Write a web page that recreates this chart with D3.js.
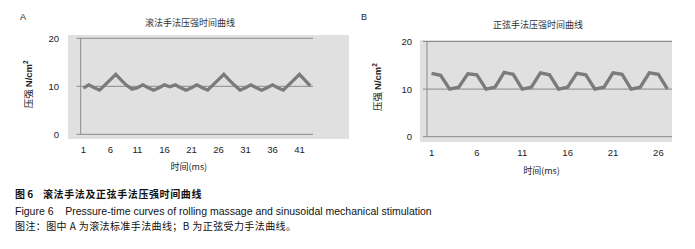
<!DOCTYPE html>
<html>
<head>
<meta charset="utf-8">
<script src="https://d3js.org/d3.v7.min.js"></script>
<style>
  body { margin: 0; background: #fff; }
  svg { display: block; font-family: "Liberation Sans", Arial, "Noto Sans CJK SC", sans-serif; }
  .cjk { font-family: "Noto Sans CJK SC", "Liberation Sans", sans-serif; }
</style>
</head>
<body>
<svg width="695" height="249"></svg>
<script>
// ---- data ----
const rollingTimes = d3.range(1, 44);          // 1..43 ms
const rollingValues = [9.6, 10.3, 9.7, 9.2, 10.3, 11.4, 12.5, 11.3, 10.2, 9.4,
                       9.7, 10.3, 9.7, 9.2, 9.7, 10.3, 9.9, 10.3, 9.7, 9.2,
                       9.7, 10.3, 9.7, 9.2, 10.3, 11.4, 12.5, 11.3, 10.2, 9.2,
                       9.7, 10.3, 9.7, 9.2, 9.7, 10.3, 9.7, 9.2, 10.3, 11.4,
                       12.5, 11.3, 10.1];
const sineTimes = d3.range(1, 28);             // 1..27 ms
const sineValues = [13.3, 12.9, 10.0, 10.4, 13.2, 13.0, 10.0, 10.4, 13.5, 13.1,
                    10.0, 10.4, 13.4, 13.0, 10.0, 10.4, 13.3, 13.0, 10.0, 10.4,
                    13.4, 13.1, 10.0, 10.4, 13.4, 13.1, 10.0];
const rollingTicks = [1, 6, 11, 16, 21, 26, 31, 36, 41];
const sineTicks = [1, 6, 11, 16, 21, 26];
const yTicks = [0, 10, 20];

const svg = d3.select('svg');

// panel layout (pixels)
const panels = [
  { letter: 'A', title: '滚法手法压强时间曲线', times: rollingTimes, values: rollingValues, ticks: rollingTicks,
    bg: [68, 35, 349, 139], x0: 80.7, x1: 313, yTop: 38.3, yBot: 134.3,
    letterX: 20, titleX: 190, titleY: 26, ylabX: 32, xlabY: 170, tickY: 153, ytX: 59 },
  { letter: 'B', title: '正弦手法压强时间曲线', times: sineTimes, values: sineValues, ticks: sineTicks,
    bg: [420, 40, 672, 142], x0: 427, x1: 672, yTop: 41.5, yBot: 136.7,
    letterX: 361, titleX: 538, titleY: 28, ylabX: 381, xlabY: 174, tickY: 156, ytX: 412 }
];

panels.forEach(p => {
  const g = svg.append('g');

  const x = d3.scaleBand().domain(p.times).range([p.x0, p.x1]).padding(0);
  const y = d3.scaleLinear().domain([0, 20]).range([p.yBot, p.yTop]);

  // plot area background
  g.append('rect')
    .attr('x', p.bg[0]).attr('y', p.bg[1])
    .attr('width', p.bg[2] - p.bg[0]).attr('height', p.bg[3] - p.bg[1])
    .style('fill', '#e0e0e0');

  // gridlines
  g.selectAll('.grid')
    .data(yTicks)
    .join('line')
    .attr('x1', p.x0 - 4).attr('x2', p.x1)
    .attr('y1', d => y(d)).attr('y2', d => y(d))
    .style('stroke', '#8a8a8a').style('stroke-width', 1);

  // y axis line
  g.append('line')
    .attr('x1', p.x0).attr('x2', p.x0)
    .attr('y1', y(20)).attr('y2', y(0))
    .style('stroke', '#8a8a8a').style('stroke-width', 1);

  // y tick labels
  g.selectAll('.ytick')
    .data(yTicks)
    .join('text')
    .attr('x', p.ytX).attr('y', d => y(d) + 3.5)
    .attr('text-anchor', 'end')
    .style('font-size', '9.5px').style('fill', '#222')
    .text(d => d);

  // x tick labels
  g.selectAll('.xtick')
    .data(p.ticks)
    .join('text')
    .attr('x', d => x(d) + x.bandwidth() / 2)
    .attr('y', p.tickY)
    .attr('text-anchor', 'middle')
    .style('font-size', '9.5px').style('fill', '#222')
    .text(d => d);

  // the curve
  const line = d3.line()
    .x((d, i) => x(p.times[i]) + x.bandwidth() / 2)
    .y(d => y(d));
  g.append('path')
    .datum(p.values)
    .attr('d', line)
    .style('fill', 'none')
    .style('stroke', '#7b7b7b')
    .style('stroke-width', 3.3)
    .style('stroke-linejoin', 'miter');

  // panel letter and title
  g.append('text')
    .attr('x', p.letterX).attr('y', 20)
    .style('font-size', '9px').style('fill', '#222')
    .text(p.letter);
  g.append('text')
    .attr('class', 'cjk')
    .attr('x', p.titleX).attr('y', p.titleY)
    .attr('text-anchor', 'middle')
    .style('font-size', '9px').style('fill', '#333')
    .text(p.title);

  // y axis title
  const yl = g.append('text')
    .attr('transform', `translate(${p.ylabX},${(p.yTop + p.yBot) / 2 - 2}) rotate(-90)`)
    .attr('text-anchor', 'middle')
    .style('font-size', '9.5px').style('fill', '#222');
  yl.append('tspan').attr('class', 'cjk').text('压强 ');
  yl.append('tspan').style('font-weight', 'bold').text('N/cm');
  yl.append('tspan').attr('dy', -4).style('font-size', '6.5px').style('font-weight', 'bold').text('2');

  // x axis title
  g.append('text')
    .attr('class', 'cjk')
    .attr('x', (p.x0 + p.x1) / 2 - 8).attr('y', p.xlabY)
    .attr('text-anchor', 'middle')
    .style('font-size', '9px').style('fill', '#222')
    .text('时间(ms)');
});

// ---- caption ----
const cap = svg.append('g').style('fill', '#111');
const l1 = cap.append('text').attr('x', 15).attr('y', 198).style('font-size', '10px');
l1.append('tspan').attr('class', 'cjk').style('font-weight', 'bold').text('图 6');
l1.append('tspan').attr('class', 'cjk').attr('x', 43).style('font-weight', 'bold')
  .style('letter-spacing', '0.6px').text('滚法手法及正弦手法压强时间曲线');

cap.append('text').attr('x', 15).attr('y', 215)
  .style('font-size', '10.5px')
  .text('Figure 6\u00a0\u00a0\u00a0\u00a0Pressure-time curves of rolling massage and sinusoidal mechanical stimulation');

cap.append('text').attr('class', 'cjk').attr('x', 15).attr('y', 230)
  .style('font-size', '10px').style('letter-spacing', '0.4px')
  .text('图注：图中 A 为滚法标准手法曲线；B 为正弦受力手法曲线。');
</script>
</body>
</html>
